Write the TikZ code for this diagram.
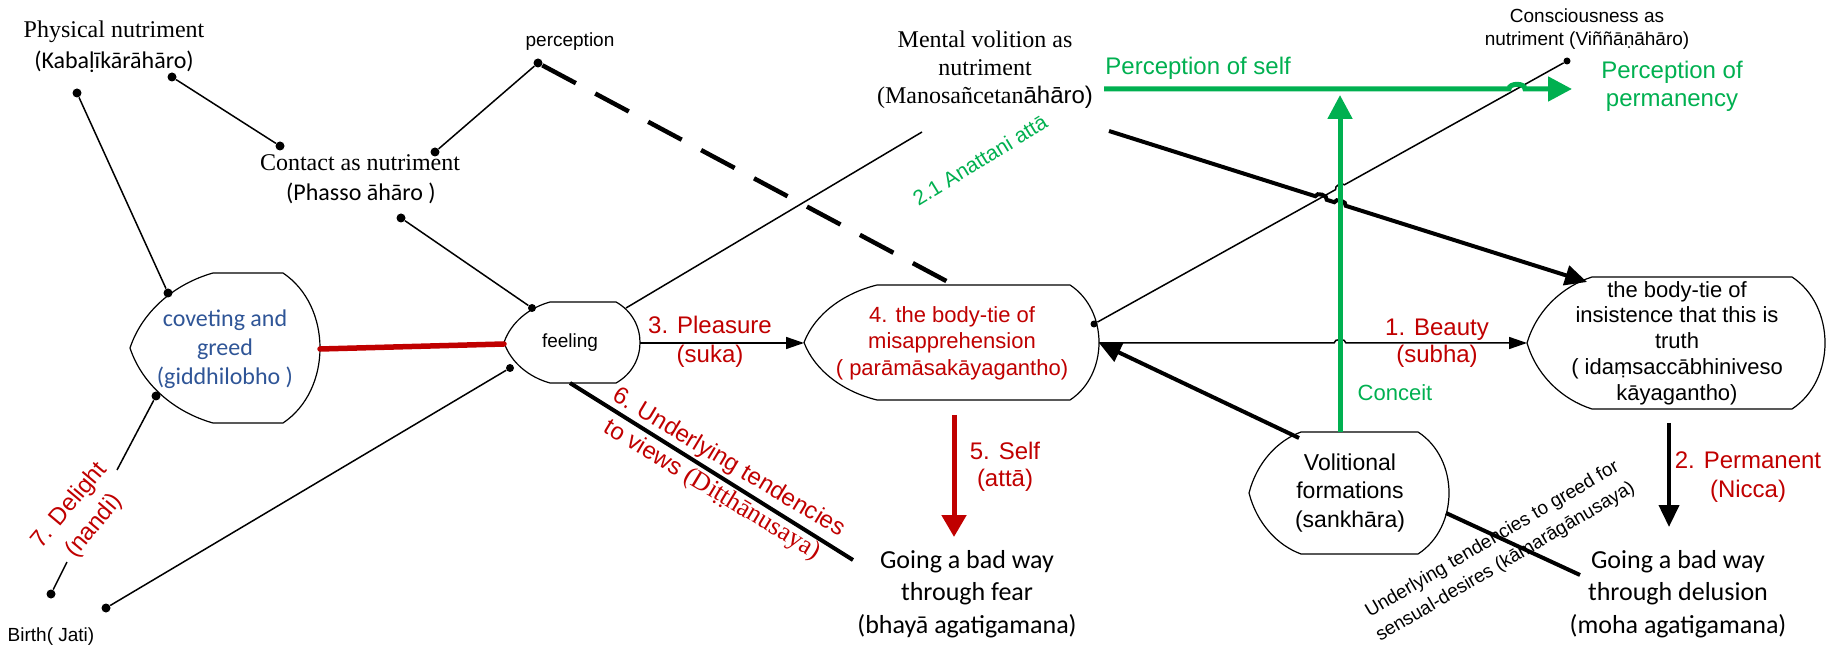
\documentclass[tikz,border=0pt]{standalone}
\usepackage{fontspec}
\setmainfont{Liberation Sans}
\newfontfamily\tnrfont{Liberation Serif}
\newfontfamily\calfont{Carlito}
\newfontfamily\arialfont{Liberation Sans}
\usetikzlibrary{arrows.meta}
\definecolor{myred}{RGB}{192,0,0}
\definecolor{mygreen}{RGB}{0,176,80}
\definecolor{myblue}{RGB}{47,85,151}
% display shape: xl xa xb xr yt yb
\newcommand\dispshape[6]{%
  \draw[shapeline] (#2,#5) -- (#3,#5)
    .. controls ({#3+(#4-#3)*4/3},{#5+0.22*(#6-#5)}) and ({#3+(#4-#3)*4/3},{#6-0.22*(#6-#5)}) .. (#3,#6)
    -- (#2,#6)
    .. controls ({#2-0.45*(#2-#1)},{#6-0.07*(#6-#5)}) and ({#1+0.15*(#2-#1)},{(#5+#6)/2+0.25*(#6-#5)}) .. (#1,{(#5+#6)/2})
    .. controls ({#1+0.15*(#2-#1)},{(#5+#6)/2-0.25*(#6-#5)}) and ({#2-0.45*(#2-#1)},{#5+0.07*(#6-#5)}) .. cycle;
}
\begin{document}
\begin{tikzpicture}[x=0.5pt,y=-0.5pt,
  shapeline/.style={line width=0.6pt, fill=white},
  conn/.style={line width=0.75pt},
  heavy/.style={line width=2pt},
  dotn/.style={circle, fill=black, inner sep=0pt, minimum size=4.5pt},
  smalldot/.style={dotn, minimum size=3.5pt},
  lbl/.style={align=center, inner sep=0pt},
  thinarrow/.style={conn, -{Triangle[length=9pt,width=6pt]}},
  heavyarrow/.style={heavy, -{Triangle[length=11pt,width=10pt]}},
  greenarrow/.style={line width=2.5pt, draw=mygreen, -{Triangle[length=12pt,width=12pt]}},
  redarrow/.style={line width=2.5pt, draw=myred, -{Triangle[length=11pt,width=12pt]}},
]
\useasboundingbox (0,0) rectangle (1845,651);

% shapes
\dispshape{130}{213}{283}{320}{273}{423}
\dispshape{504}{550}{616}{640}{302}{383}
\dispshape{804}{877}{1070}{1099}{285}{400}
\dispshape{1527}{1592}{1792}{1825}{277}{409}
\dispshape{1249}{1301}{1418}{1449}{432}{554}

% named points
\coordinate (covE) at (320,349);
\coordinate (feelW) at (504,344);
\coordinate (feelNE) at (626,308);
\coordinate (feelE) at (640,343);
\coordinate (feelS) at (570,383);
\coordinate (mentSW) at (922,132);
\coordinate (mentSE) at (1109,131);
\coordinate (m4W) at (804,343);
\coordinate (m4E) at (1099,343);
\coordinate (m4top) at (950,283);
\coordinate (m4S) at (954,415);
\coordinate (selfEnd) at (954,537);
\coordinate (fearNW) at (853,560);
\coordinate (insW) at (1527,343);
\coordinate (insNW) at (1587,282);
\coordinate (insS) at (1669,423);
\coordinate (delEnd) at (1669,527);
\coordinate (volNW) at (1299,438);
\coordinate (volN) at (1340,432);
\coordinate (volSE) at (1446,513);
\coordinate (volEnd) at (1580,575);
\coordinate (gTop) at (1340,95);
\coordinate (gStart) at (1104,89);
\coordinate (gEnd) at (1572,89);
\coordinate (dlTop) at (117,470);
\coordinate (dlBot) at (67,562);

% dots
\node[dotn] (A1) at (172,77) {};
\node[dotn] (A2) at (280,146) {};
\node[dotn] (B1) at (77,93) {};
\node[dotn] (C1) at (435,152) {};
\node[dotn] (P1) at (538,63) {};
\node[dotn] (C2) at (401,218) {};
\node[dotn] (CV1) at (168,293) {};
\node[dotn] (CV2) at (156,396) {};
\node[dotn, minimum size=4pt] (F1) at (532,308) {};
\node[dotn, minimum size=4pt] (F2) at (510,368) {};
\node[dotn] (D1) at (51,594) {};
\node[dotn] (D2) at (106,608) {};
\node[smalldot] (N4) at (1094,324) {};
\node[smalldot] (V1) at (1567,61) {};

% connectors
\draw[conn] (A1) -- (A2);
\draw[conn] (B1) -- (CV1);
\draw[conn] (C1) -- (P1);
\draw[conn] (C2) -- (F1);
\draw[line width=2.25pt, dash pattern=on 19pt off 11pt] (P1) -- (m4top);
\draw[conn] (CV2) -- (dlTop);
\draw[conn] (dlBot) -- (D1);
\draw[conn] (D2) -- (F2);
\draw[line width=2.75pt, draw=myred, line cap=round] (covE) -- (feelW);
\draw[conn] (feelNE) -- (mentSW);
\draw[thinarrow] (feelE) -- (m4W);
\draw[heavy] (feelS) -- (fearNW);
\draw[redarrow] (m4S) -- (selfEnd);
\draw[conn] (N4) -- (1335.6,189.6) to[bend left=90] (1344.4,184.8) -- (V1);
\draw[thinarrow] (m4E) -- (1334,343) to[bend left=90] (1346,343) -- (insW);
\draw[heavyarrow] (mentSE) -- (1315.3,196.2) to[bend left=90] (1326.7,199.8) -- (1334.3,202.2) to[bend left=90] (1345.7,205.8) -- (insNW);
\draw[heavyarrow] (volNW) -- (m4E);
\draw[greenarrow] (volN) -- (gTop);
\draw[greenarrow] (gStart) -- (1509,89) to[bend left=90] (1525,89) -- (gEnd);
\draw[heavyarrow] (insS) -- (delEnd);
\draw[heavy] (volSE) -- (volEnd);

% texts
\node[lbl, font=\tnrfont\fontsize{12}{15}\selectfont] (phys) at (114,32) {Physical nutriment};
\node[lbl, font=\calfont\fontsize{12}{15}\selectfont] (physp) at (114,62) {(Kabaḷīkārāhāro)};
\node[lbl, font=\fontsize{9.5}{11}\selectfont] (perc) at (570,42) {perception};
\node[lbl, font=\tnrfont\fontsize{12}{15}\selectfont] (cont) at (360,163) {Contact as nutriment};
\node[lbl, font=\calfont\fontsize{12}{15}\selectfont] (contp) at (361,193) {(Phasso āhāro )};
\node[lbl, font=\tnrfont\fontsize{12}{14}\selectfont] (ment) at (985,70) {Mental volition as\\nutriment\\(Manosañcetan{\arialfont āhāro)}};
\node[lbl, font=\fontsize{9.5}{11.5}\selectfont] (cons) at (1587,29) {Consciousness as\\nutriment (Viññāṇāhāro)};
\node[lbl, anchor=west, text=mygreen, font=\fontsize{12}{14}\selectfont] (pself) at (1105,68) {Perception of self};
\node[lbl, text=mygreen, font=\fontsize{12}{14}\selectfont] (pperm) at (1672,86) {Perception of\\permanency};
\node[lbl, text=mygreen, rotate=31.5, font=\fontsize{10.5}{12}\selectfont] (anat) at (980,160) {2.1 Anattani attā};
\node[lbl, text=myblue, font=\calfont\fontsize{12}{14.5}\selectfont] (covt) at (225,349) {coveting and\\greed\\(giddhilobho )};
\node[lbl, font=\fontsize{9.5}{11}\selectfont] (feel) at (570,343) {feeling};
\node[lbl, text=myred, font=\fontsize{12}{14.5}\selectfont] (pleas) at (710,342) {3. Pleasure\\(suka)};
\node[lbl, text=myred, font=\fontsize{11}{13.25}\selectfont] (misap) at (952,343) {4. the body-tie of\\misapprehension\\( parāmāsakāyagantho)};
\node[lbl, text=myred, font=\fontsize{12}{13.5}\selectfont] (beauty) at (1437,343) {1. Beauty\\(subha)};
\node[lbl, text=mygreen, font=\fontsize{11}{13}\selectfont] (conceit) at (1395,393) {Conceit};
\node[lbl, font=\fontsize{11}{12.9}\selectfont] (insist) at (1677,343) {the body-tie of\\insistence that this is\\truth\\( idaṃsaccābhiniveso\\kāyagantho)};
\node[lbl, text=myred, font=\fontsize{12}{13.5}\selectfont] (self) at (1005,467) {5. Self\\(attā)};
\node[lbl, font=\fontsize{11.5}{14.25}\selectfont] (volt) at (1350,493) {Volitional\\formations\\(sankhāra)};
\node[lbl, text=myred, font=\fontsize{12}{14.5}\selectfont] (perm) at (1748,477) {2. Permanent\\(Nicca)};
\node[lbl, font=\calfont\fontsize{13}{16.25}\selectfont] (fear) at (967,594) {Going a bad way\\through fear\\(bhayā agatigamana)};
\node[lbl, font=\calfont\fontsize{13}{16.25}\selectfont] (delu) at (1678,594) {Going a bad way\\through delusion\\(moha agatigamana)};
\node[lbl, font=\fontsize{9.5}{11}\selectfont] (birth) at (51,637) {Birth( Jati)};
\node[lbl, text=myred, rotate=50, font=\fontsize{12}{16}\selectfont] (delight) at (82,516) {7. Delight\\(nandi)};
\node[lbl, text=myred, rotate=-31, font=\fontsize{12}{16}\selectfont] (views) at (720,477) {6. Underlying tendencies\\to views {\tnrfont\fontsize{13}{16}\selectfont (Diṭṭhānusaya)}};
\node[lbl, rotate=30.5, font=\fontsize{9.5}{13}\selectfont] (greedt) at (1499,551) {Underlying tendencies to greed for\\sensual-desires (kāmarāgānusaya)};
\end{tikzpicture}
\end{document}
